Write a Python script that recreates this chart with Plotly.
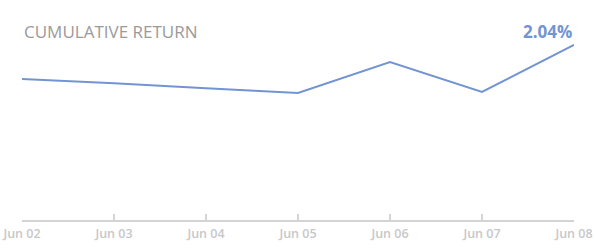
import plotly.graph_objects as go

dates = ["2020-06-02", "2020-06-03", "2020-06-04", "2020-06-05", "2020-06-06", "2020-06-07", "2020-06-08"]
cum_return = [1.644, 1.594, 1.535, 1.480, 1.842, 1.492, 2.04]
title_text = "CUMULATIVE RETURN"
last_label = "2.04%"

fig = go.Figure()
fig.add_trace(go.Scatter(
    x=dates, y=cum_return, mode="lines",
    line=dict(color="#7394d2", width=2),
    hoverinfo="skip",
))

fig.update_layout(
    width=595, height=248,
    margin=dict(l=22, r=21, t=20, b=28),
    paper_bgcolor="white", plot_bgcolor="white",
    showlegend=False,
    xaxis=dict(
        type="date",
        range=[dates[0], dates[-1]],
        tickvals=dates,
        tickformat="%b %d",
        ticks="inside", ticklen=6, tickwidth=2, tickcolor="#d4d4d4",
        showline=True, linecolor="#d4d4d4", linewidth=2,
        showgrid=False, zeroline=False,
        tickfont=dict(family="Open Sans", size=12.5, color="#c8c8c8", weight=600),
        ticklabelstandoff=1,
        automargin=False,
    ),
    yaxis=dict(
        range=[0, 2.331],
        visible=False, showgrid=False, zeroline=False, fixedrange=True,
        automargin=False,
    ),
    annotations=[
        dict(text=title_text, xref="paper", yref="paper", x=0, y=0.945,
             xanchor="left", yanchor="middle", showarrow=False,
             font=dict(family="Open Sans", size=17, color="#9a9a9a")),
        dict(text="<b>" + last_label + "</b>", xref="paper", yref="paper", x=1.0, y=0.945,
             xanchor="right", yanchor="middle", showarrow=False,
             font=dict(family="Open Sans", size=17, color="#7394d2")),
    ],
)

fig.write_html("out.html")
